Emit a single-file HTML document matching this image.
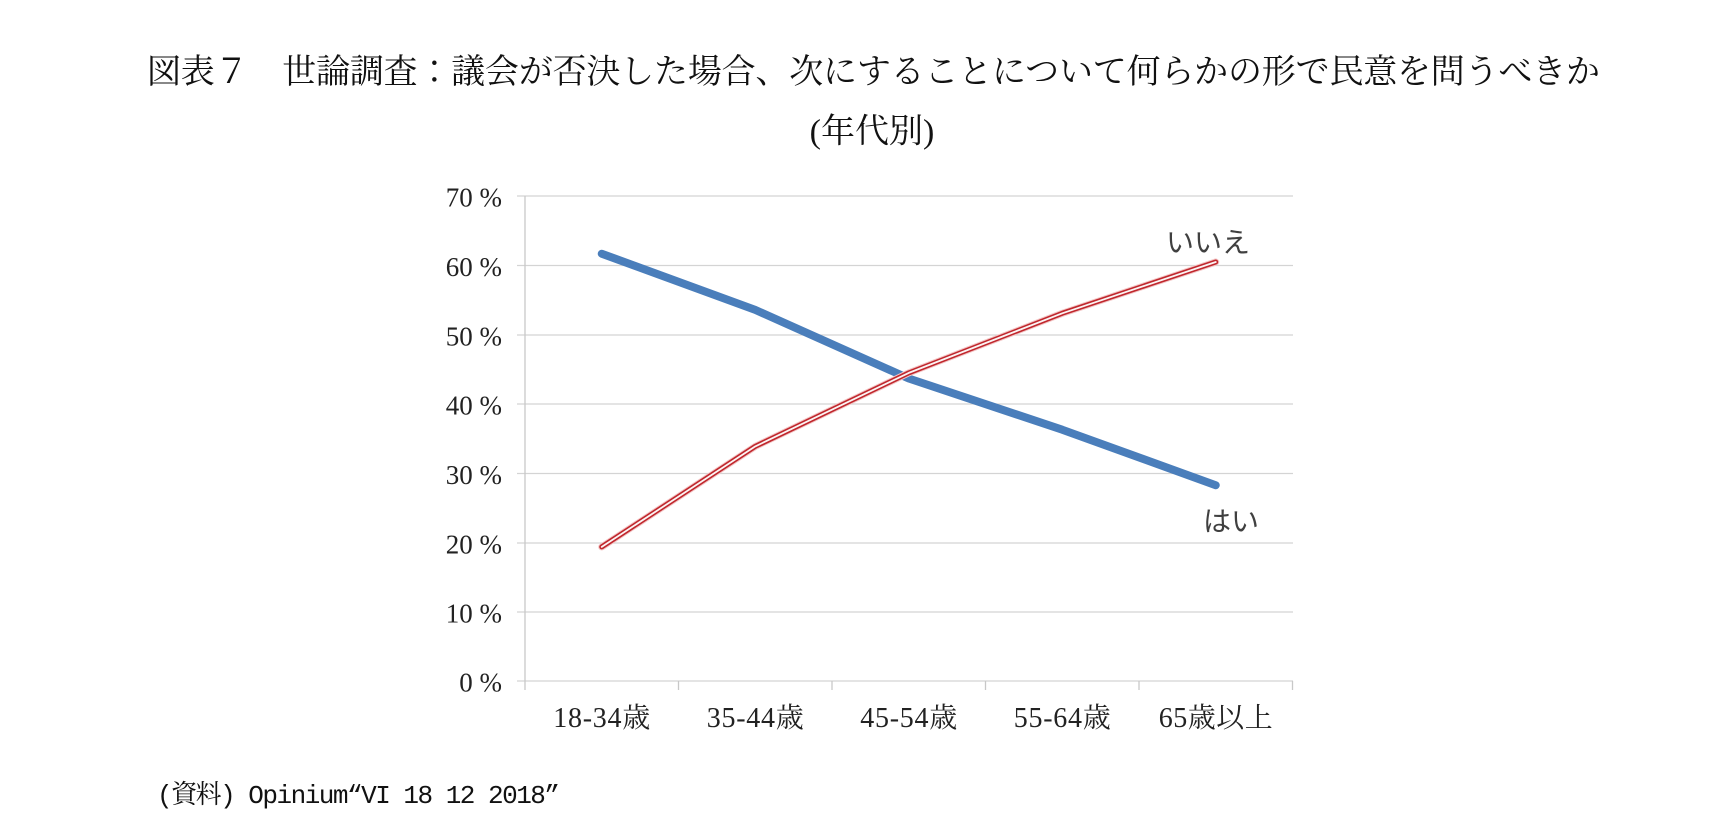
<!DOCTYPE html>
<html lang="ja">
<head>
<meta charset="utf-8">
<style>
  html,body{margin:0;padding:0;background:#fff;}
  body{width:1735px;height:828px;overflow:hidden;}
  svg{display:block;}
  .serif{font-family:"Liberation Serif","Noto Serif CJK JP",serif;}
  .sans{font-family:"Liberation Sans","Noto Sans CJK JP",sans-serif;}
  .mono{font-family:"Liberation Mono","Noto Serif CJK JP",monospace;}
</style>
</head>
<body>
<svg width="1735" height="828" viewBox="0 0 1735 828" xmlns="http://www.w3.org/2000/svg">
  <rect x="0" y="0" width="1735" height="828" fill="#fff"/>

  <!-- Title -->
  <text class="serif" x="147" y="83" font-size="34" fill="#111" textLength="1453" lengthAdjust="spacing">図表７　世論調査：議会が否決した場合、次にすることについて何らかの形で民意を問うべきか</text>
  <text class="serif" x="872" y="142.5" font-size="34" fill="#111" text-anchor="middle">(年代別)</text>

  <!-- Gridlines -->
  <g stroke="#d4d4d4" stroke-width="1.3">
    <line x1="517" y1="196" x2="1293" y2="196"/>
    <line x1="517" y1="265.5" x2="1293" y2="265.5"/>
    <line x1="517" y1="335" x2="1293" y2="335"/>
    <line x1="517" y1="404" x2="1293" y2="404"/>
    <line x1="517" y1="473.5" x2="1293" y2="473.5"/>
    <line x1="517" y1="543" x2="1293" y2="543"/>
    <line x1="517" y1="612" x2="1293" y2="612"/>
    <line x1="517" y1="681" x2="1293" y2="681"/>
  </g>
  <!-- Axes -->
  <g stroke="#c8c8c8" stroke-width="1.3">
    <line x1="525" y1="196" x2="525" y2="690"/>
    <line x1="678.5" y1="681" x2="678.5" y2="690"/>
    <line x1="832" y1="681" x2="832" y2="690"/>
    <line x1="985.5" y1="681" x2="985.5" y2="690"/>
    <line x1="1139" y1="681" x2="1139" y2="690"/>
    <line x1="1292.5" y1="681" x2="1292.5" y2="690"/>
  </g>

  <!-- Y labels -->
  <g class="serif" font-size="27" fill="#222" text-anchor="end">
    <text x="502" y="206.5">70 %</text>
    <text x="502" y="276">60 %</text>
    <text x="502" y="345.5">50 %</text>
    <text x="502" y="414.5">40 %</text>
    <text x="502" y="484">30 %</text>
    <text x="502" y="553.5">20 %</text>
    <text x="502" y="622.5">10 %</text>
    <text x="502" y="691.5">0 %</text>
  </g>

  <!-- X labels -->
  <g class="serif" font-size="28" fill="#222" text-anchor="middle">
    <text x="601.75" y="727" textLength="97" lengthAdjust="spacing">18-34歳</text>
    <text x="755.25" y="727" textLength="97" lengthAdjust="spacing">35-44歳</text>
    <text x="908.75" y="727" textLength="97" lengthAdjust="spacing">45-54歳</text>
    <text x="1062.25" y="727" textLength="97" lengthAdjust="spacing">55-64歳</text>
    <text x="1215.75" y="727" textLength="114" lengthAdjust="spacing">65歳以上</text>
  </g>

  <!-- Blue series (はい) -->
  <polyline points="601.75,253.7 755.25,309.9 908.75,378.5 1062.25,429.7 1215.75,485.2"
    fill="none" stroke="#4a7ebb" stroke-width="8" stroke-linecap="round" stroke-linejoin="round"/>

  <!-- Red series (いいえ) double line -->
  <polyline points="601.75,546.9 755.25,446.4 908.75,372.9 1062.25,313.3 1215.75,262"
    fill="none" stroke="#f3c6c6" stroke-width="7" stroke-linecap="round" stroke-linejoin="round"/>
  <polyline points="601.75,546.9 755.25,446.4 908.75,372.9 1062.25,313.3 1215.75,262"
    fill="none" stroke="#c0272d" stroke-width="5" stroke-linecap="round" stroke-linejoin="round"/>
  <polyline points="601.75,546.9 755.25,446.4 908.75,372.9 1062.25,313.3 1215.75,262"
    fill="none" stroke="#ffffff" stroke-width="1.8" stroke-linecap="round" stroke-linejoin="round" opacity="0.95"/>

  <!-- Series labels -->
  <text class="sans" x="1166" y="252" font-size="28" fill="#404040">いいえ</text>
  <text class="sans" x="1203" y="531" font-size="28" fill="#404040">はい</text>

  <!-- Source -->
  <text class="mono" x="157" y="803" font-size="26" fill="#111" textLength="403" lengthAdjust="spacing">(資料) Opinium“VI 18 12 2018”</text>
</svg>
</body>
</html>
